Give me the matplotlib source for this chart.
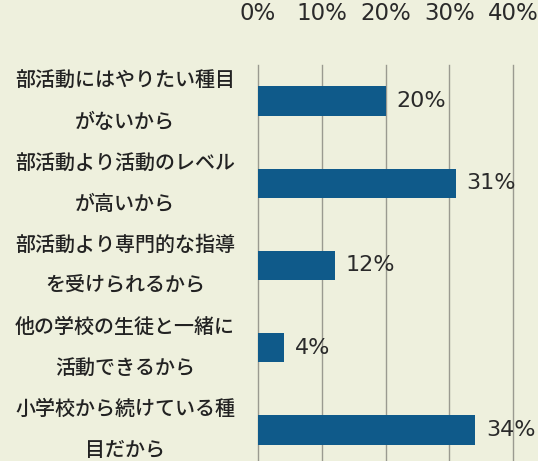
import matplotlib.pyplot as plt
import matplotlib.ticker as mticker

plt.rcParams['font.family'] = ['Noto Sans CJK JP', 'DejaVu Sans']

# 理由ごとの割合
reasons = [
    "部活動にはやりたい種目\nがないから",
    "部活動より活動のレベル\nが高いから",
    "部活動より専門的な指導\nを受けられるから",
    "他の学校の生徒と一緒に\n活動できるから",
    "小学校から続けている種\n目だから",
]
values = [20, 31, 12, 4, 34]
value_labels = ["20%", "31%", "12%", "4%", "34%"]
ticks = [0, 10, 20, 30, 40]

bg = '#eef0dd'
bar_color = '#0f5a8a'

fig = plt.figure(figsize=(5.38, 4.61), dpi=100, facecolor=bg)
ax = fig.add_axes([258 / 538, 0, 255 / 538, 1 - 65 / 461], facecolor=bg)

y = list(range(len(reasons)))
ax.barh(y, values, height=0.36, color=bar_color, zorder=3)

ax.set_xlim(0, 40)
ax.set_ylim(len(reasons) - 1 + 0.38, -0.44)

# 目盛りは上側
ax.xaxis.tick_top()
ax.set_xticks(ticks)
ax.xaxis.set_major_formatter(mticker.FuncFormatter(lambda v, p: f"{v:.0f}%"))
ax.tick_params(axis='x', length=0, pad=29, labelsize=16.5, colors='#2a2a2a')
for lab in ax.get_xticklabels():
    lab.set_fontfamily(['DejaVu Sans'])
ax.set_yticks([])

ax.grid(axis='x', color='#9a9a90', linewidth=1.0, zorder=0)
for gl in ax.get_xgridlines():
    gl.set_clip_on(False)
for s in ax.spines.values():
    s.set_visible(False)

# 値ラベル
for yi, v, t in zip(y, values, value_labels):
    ax.annotate(t, (v, yi), xytext=(8, 0), textcoords='offset points',
                va='center', ha='left', fontsize=16, color='#2a2a2a',
                family=['DejaVu Sans'])

# 項目ラベル（左側、中央揃え）
for yi, r in zip(y, reasons):
    ax.annotate(r, (0, yi), xycoords=('axes fraction', 'data'),
                xytext=(-133 * 0.72, 0), textcoords='offset points',
                ha='center', va='center', multialignment='center',
                fontsize=14.4, linespacing=2.3, color='#222222',
                fontweight='medium')

fig.savefig('out.png', dpi=100, facecolor=bg)
